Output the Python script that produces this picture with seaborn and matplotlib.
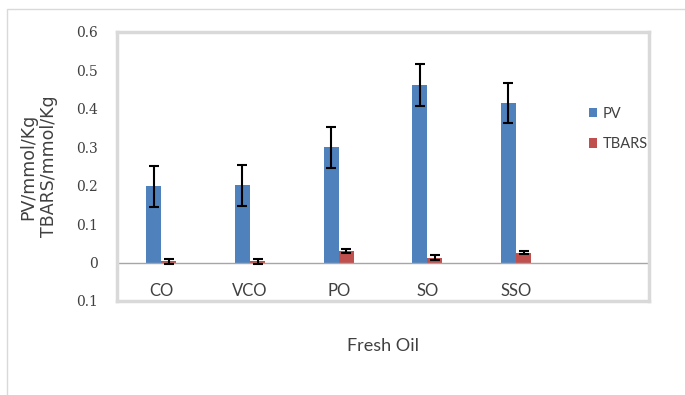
import matplotlib
matplotlib.use("Agg")
import matplotlib.pyplot as plt
import matplotlib.ticker as mticker
from matplotlib.patches import Rectangle
import numpy as np
import pandas as pd
import seaborn as sns

# Oxidation indices of fresh oils
oils = ["CO", "VCO", "PO", "SO", "SSO"]
pv = [0.198, 0.201, 0.300, 0.462, 0.415]
pv_err = [0.054, 0.053, 0.054, 0.055, 0.052]
tbars = [0.003, 0.003, 0.029, 0.013, 0.026]
tbars_err = [0.007, 0.006, 0.005, 0.007, 0.005]
series = ["PV", "TBARS"]
y_ticks = [-0.1, 0.0, 0.1, 0.2, 0.3, 0.4, 0.5, 0.6]
y_tick_labels = ["0.1", "0", "0.1", "0.2", "0.3", "0.4", "0.5", "0.6"]

sns.set_theme(style="white")
sans = ["Lato", "DejaVu Sans"]
plt.rcParams["font.family"] = sans

df = pd.DataFrame({
    "oil": oils * 2,
    "series": [series[0]] * len(oils) + [series[1]] * len(oils),
    "value": pv + tbars,
    "err": pv_err + tbars_err,
})

fig = plt.figure(figsize=(6.85, 3.95), dpi=100)
ax = fig.add_axes([0.1708, 0.238, 0.7766, 0.681])

palette = {"PV": "#4F81BD", "TBARS": "#C0504D"}
sns.barplot(data=df, x="oil", y="value", hue="series", order=oils,
            hue_order=series, palette=palette, width=0.34, errorbar=None,
            saturation=1, linewidth=0, ax=ax, legend=True)

# error bars centred on each bar
for container, s in zip(ax.containers, series):
    sub = df[df["series"] == s].set_index("oil").loc[oils]
    xs = [p.get_x() + p.get_width() / 2 for p in container.patches]
    ax.errorbar(xs, sub["value"].values, yerr=sub["err"].values, fmt="none",
                ecolor="black", elinewidth=1.5, capsize=3.3, capthick=1.5,
                zorder=5)

ax.set_xlim(-0.5, len(oils) + 0.5)
ax.set_ylim(-0.1, 0.6)
ax.axhline(0, color="#A6A6A6", lw=1, zorder=1)

ax.yaxis.set_major_locator(mticker.FixedLocator(y_ticks))
ax.yaxis.set_major_formatter(mticker.FixedFormatter(y_tick_labels))
ax.tick_params(axis="y", length=0, pad=14, labelsize=10, labelcolor="#404040")
for lab in ax.get_yticklabels():
    lab.set_family(["DejaVu Serif"])

ax.tick_params(axis="x", length=0, pad=-13, labelsize=12, labelcolor="#404040")

for sp in ax.spines.values():
    sp.set_color("#D9D9D9")
    sp.set_linewidth(2.5)

ax.set_xlabel("Fresh Oil", fontsize=13, color="#404040", labelpad=27)
ax.set_ylabel("PV/mmol/Kg\nTBARS/mmol/Kg", fontsize=12.5,
              color="#404040", family=["DejaVu Sans"], labelpad=13,
              linespacing=1.15)

leg = ax.legend(loc="upper left", bbox_to_anchor=(0.862, 0.77), frameon=False,
                fontsize=10.5, handlelength=0.6, handleheight=0.6,
                handletextpad=0.35, labelspacing=1.1)
for t in leg.get_texts():
    t.set_color("#404040")

# outer chart border
fig.patches.append(Rectangle((7 / 685, -0.1), 1.2, 1 - 9 / 395 + 0.1,
                             transform=fig.transFigure, fill=False,
                             edgecolor="#D9D9D9", lw=1))

fig.savefig("out.png", dpi=100)
